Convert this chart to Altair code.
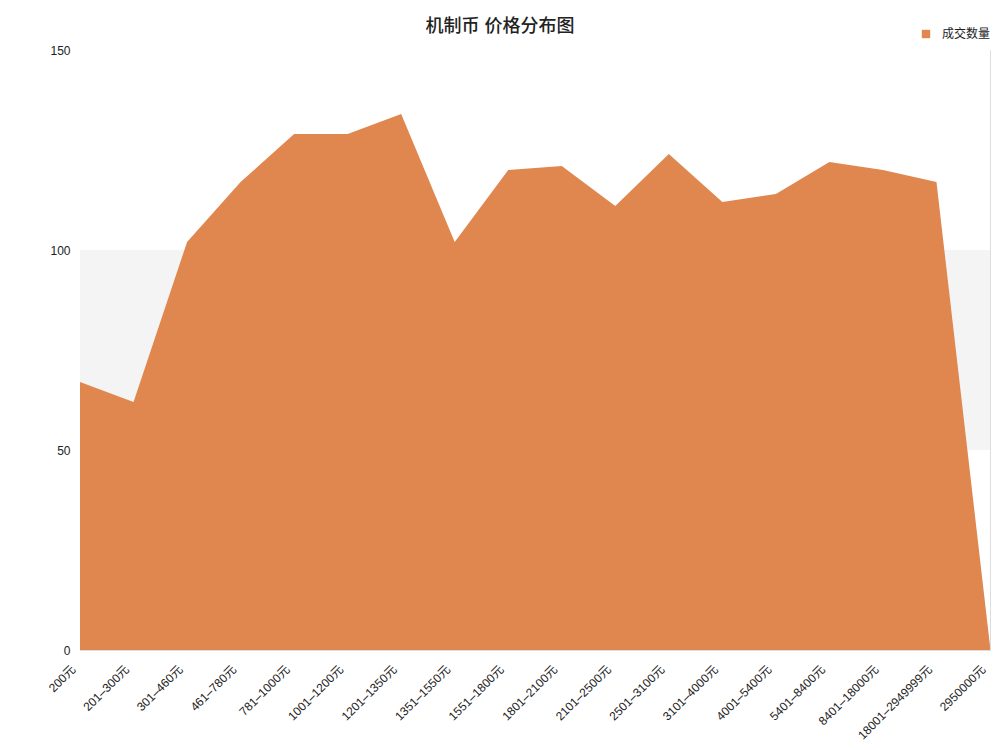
import altair as alt
import pandas as pd

categories = ["200元", "201–300元", "301–460元", "461–780元", "781–1000元", "1001–1200元",
              "1201–1350元", "1351–1550元", "1551–1800元", "1801–2100元", "2101–2500元",
              "2501–3100元", "3101–4000元", "4001–5400元", "5401–8400元", "8401–18000元",
              "18001–2949999元", "2950000元"]
counts = [67, 62, 102, 117, 129, 129, 134, 102, 120, 121, 111, 124, 112, 114, 122, 120, 117, 1]
series_name = "成交数量"

band_lo = [0, 50, 100]
band_hi = [50, 100, 150]
band_fill = ["#ffffff", "#f4f4f4", "#ffffff"]

FONT = "Helvetica, Arial, 'Liberation Sans', 'Noto Sans CJK SC', sans-serif"
ORANGE = "#df874f"

df = pd.DataFrame({"cat": categories, "val": counts, "series": [series_name] * len(categories)})
bands = pd.DataFrame({"lo": band_lo, "hi": band_hi, "fill": band_fill})

yscale = alt.Scale(domain=[0, 150], nice=False)

band_layer = alt.Chart(bands).mark_rect().encode(
    x=alt.value(0),
    x2=alt.value(910),
    y=alt.Y("lo:Q", scale=yscale),
    y2="hi:Q",
    fill=alt.Fill("fill:N", scale=None, legend=None),
)

area = alt.Chart(df).mark_area(opacity=1, interpolate="linear").encode(
    x=alt.X("cat:N", sort=categories, scale=alt.Scale(type="point", padding=0),
            axis=alt.Axis(title=None, labelAngle=-45, labelAlign="right", labelBaseline="middle",
                          labelPadding=17, labelOffset=-7, ticks=False, domain=True,
                          domainColor="#dddddd", labelFontSize=12, labelColor="#222222",
                          labelFont=FONT, grid=False, labelOverlap=False, labelBound=False)),
    y=alt.Y("val:Q", scale=yscale,
            axis=alt.Axis(title=None, values=[0, 50, 100, 150], ticks=False, domain=True,
                          domainColor="#dddddd", gridColor="#e6e6e6", labelPadding=10,
                          labelFontSize=12, labelColor="#222222", labelFont=FONT)),
    color=alt.Color("series:N", scale=alt.Scale(range=[ORANGE]),
                    legend=alt.Legend(title=None, orient="none", legendX=840, legendY=-22,
                                      symbolType="square", symbolSize=70, labelFontSize=12,
                                      labelOffset=10, labelFont=FONT, labelColor="#222222",
                                      symbolOpacity=1)),
)

chart = alt.layer(band_layer, area).properties(
    width=910,
    height=600,
    autosize=alt.AutoSizeParams(type="none"),
    padding={"left": 72, "top": 42, "right": 2, "bottom": 98},
    title=alt.TitleParams(text="机制币 价格分布图", fontSize=18, fontWeight=500, font=FONT,
                          color="#222222", anchor="middle", dx=-35, offset=-8),
).configure_view(stroke="#dddddd").configure_axis(gridColor="#e6e6e6")

chart.save("out.html", embed_options={"renderer": "svg", "actions": False})
